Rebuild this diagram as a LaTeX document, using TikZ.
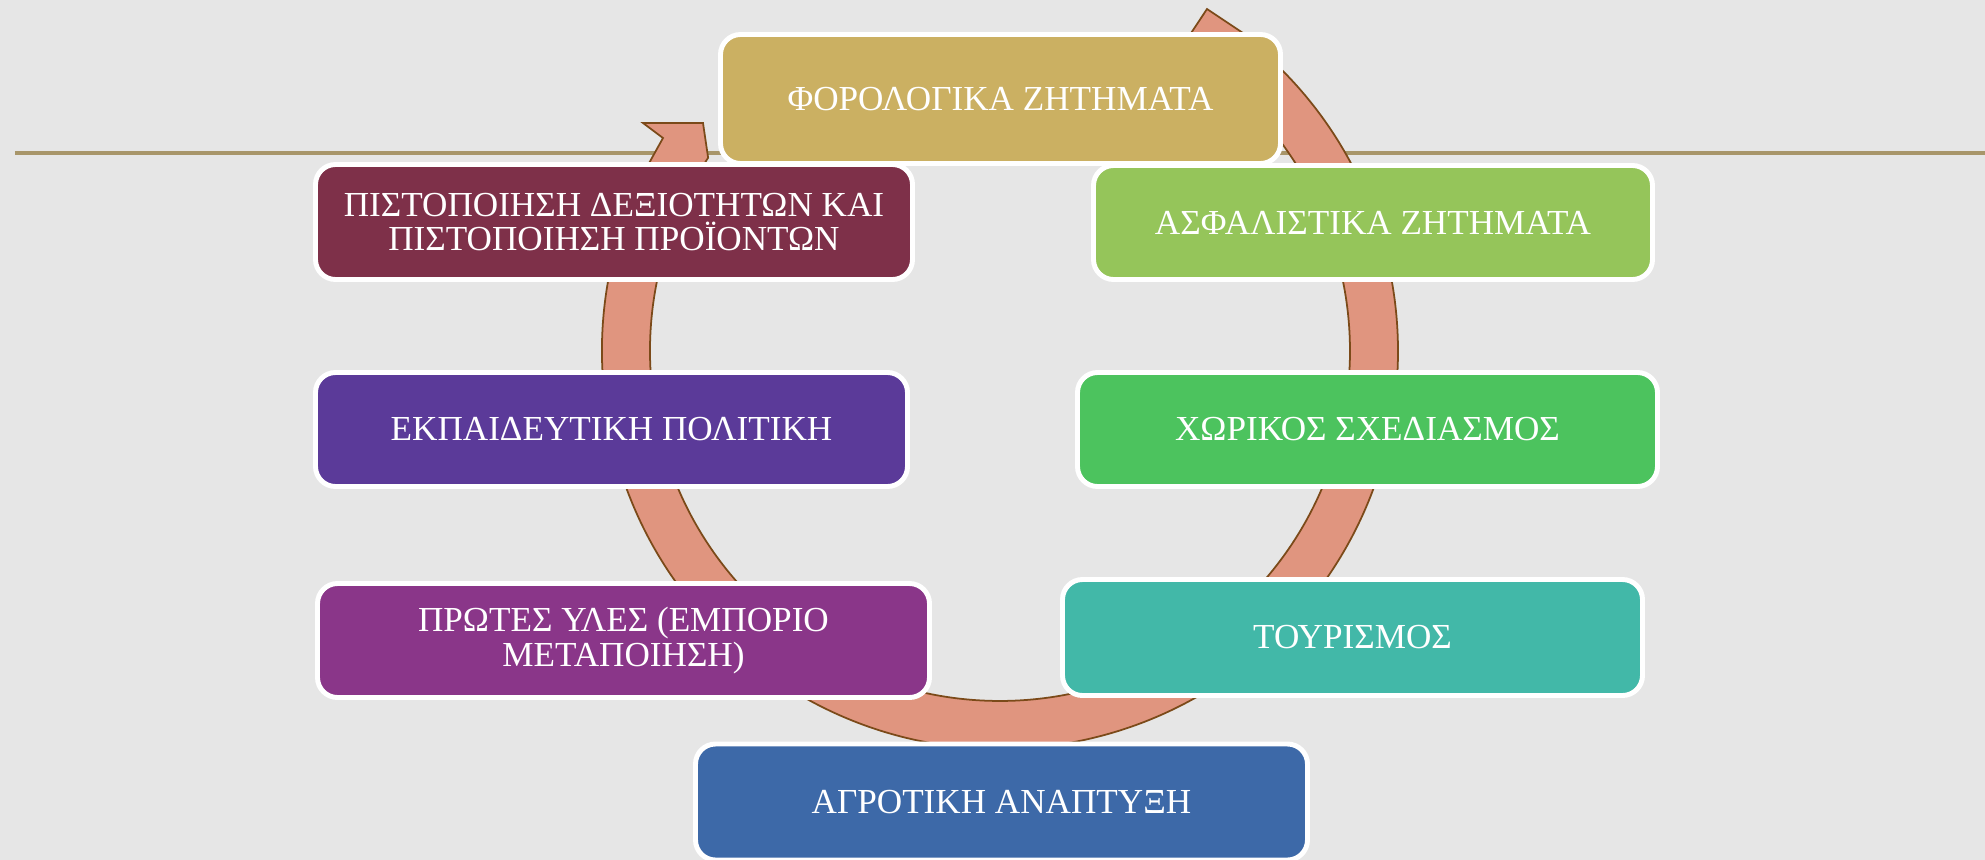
\documentclass[tikz,border=0pt]{standalone}
\usepackage{fontspec}
\setmainfont{Liberation Serif}
\definecolor{bgGrey}{HTML}{E6E6E6}
\definecolor{ruleTan}{HTML}{A8966A}
\definecolor{arrowPink}{HTML}{E0957F}
\definecolor{arrowBrown}{HTML}{7B4A19}
\definecolor{taxGold}{HTML}{CBB062}
\definecolor{insLime}{HTML}{95C55A}
\definecolor{certMaroon}{HTML}{7E3049}
\definecolor{spaceGreen}{HTML}{4CC35E}
\definecolor{eduPurple}{HTML}{5B3A99}
\definecolor{tourTeal}{HTML}{42B8A8}
\definecolor{rawMagenta}{HTML}{8A3689}
\definecolor{agriBlue}{HTML}{3D69A8}
\tikzset{topic/.style = {rectangle, rounded corners=0.2cm, draw=white,
                         line width=1.4pt, text=white, align=center,
                         inner sep=0pt,
                         font=\fontsize{10}{9.8}\selectfont}}

\begin{document}
\begin{tikzpicture}
    \fill [bgGrey] (0, 0) rectangle (19.85, -8.60);
    \useasboundingbox (0, 0) rectangle (19.85, -8.60);

    \draw [ruleTan, line width=0.9pt] (0.15, -1.53) -- (19.85, -1.53);

    % cycle arrow, centre (10,-3.51)
    \filldraw [fill=arrowPink, draw=arrowBrown, line width=0.5pt]
      (6.43, -1.23) -- (6.63, -1.38) -- (6.519, -1.580)
      arc [start angle=151, end angle=409, radius=3.98]
      -- (12.64, -0.47) -- (12.07, -0.09) -- (11.60, -0.80)
      -- (12.296, -0.868)
      arc [start angle=409, end angle=146.5, radius=3.5]
      -- (7.03, -1.23) -- cycle;

    \node [topic, fill=taxGold, minimum width=5.60cm, minimum height=1.29cm]
      (tax) at (10.005, -0.99) {ΦΟΡΟΛΟΓΙΚΑ ΖΗΤΗΜΑΤΑ};
    \node [topic, fill=insLime, minimum width=5.59cm, minimum height=1.14cm]
      (insurance) at (13.73, -2.225) {ΑΣΦΑΛΙΣΤΙΚΑ ΖΗΤΗΜΑΤΑ};
    \node [topic, fill=certMaroon, minimum width=5.97cm, minimum height=1.15cm]
      (certify) at (6.14, -2.22) {ΠΙΣΤΟΠΟΙΗΣΗ ΔΕΞΙΟΤΗΤΩΝ ΚΑΙ\\ΠΙΣΤΟΠΟΙΗΣΗ ΠΡΟΪΟΝΤΩΝ};
    \node [topic, fill=spaceGreen, minimum width=5.80cm, minimum height=1.14cm]
      (spatial) at (13.675, -4.295) {ΧΩΡΙΚΟΣ ΣΧΕΔΙΑΣΜΟΣ};
    \node [topic, fill=eduPurple, minimum width=5.92cm, minimum height=1.14cm]
      (education) at (6.115, -4.295) {ΕΚΠΑΙΔΕΥΤΙΚΗ ΠΟΛΙΤΙΚΗ};
    \node [topic, fill=tourTeal, minimum width=5.80cm, minimum height=1.16cm]
      (tourism) at (13.525, -6.375) {ΤΟΥΡΙΣΜΟΣ};
    \node [topic, fill=rawMagenta, minimum width=6.12cm, minimum height=1.14cm]
      (rawmat) at (6.235, -6.405) {ΠΡΩΤΕΣ ΥΛΕΣ (ΕΜΠΟΡΙΟ\\ΜΕΤΑΠΟΙΗΣΗ)};
    \node [topic, fill=agriBlue, minimum width=6.12cm, minimum height=1.16cm]
      (agri) at (10.015, -8.02) {ΑΓΡΟΤΙΚΗ ΑΝΑΠΤΥΞΗ};
\end{tikzpicture}
\end{document}
